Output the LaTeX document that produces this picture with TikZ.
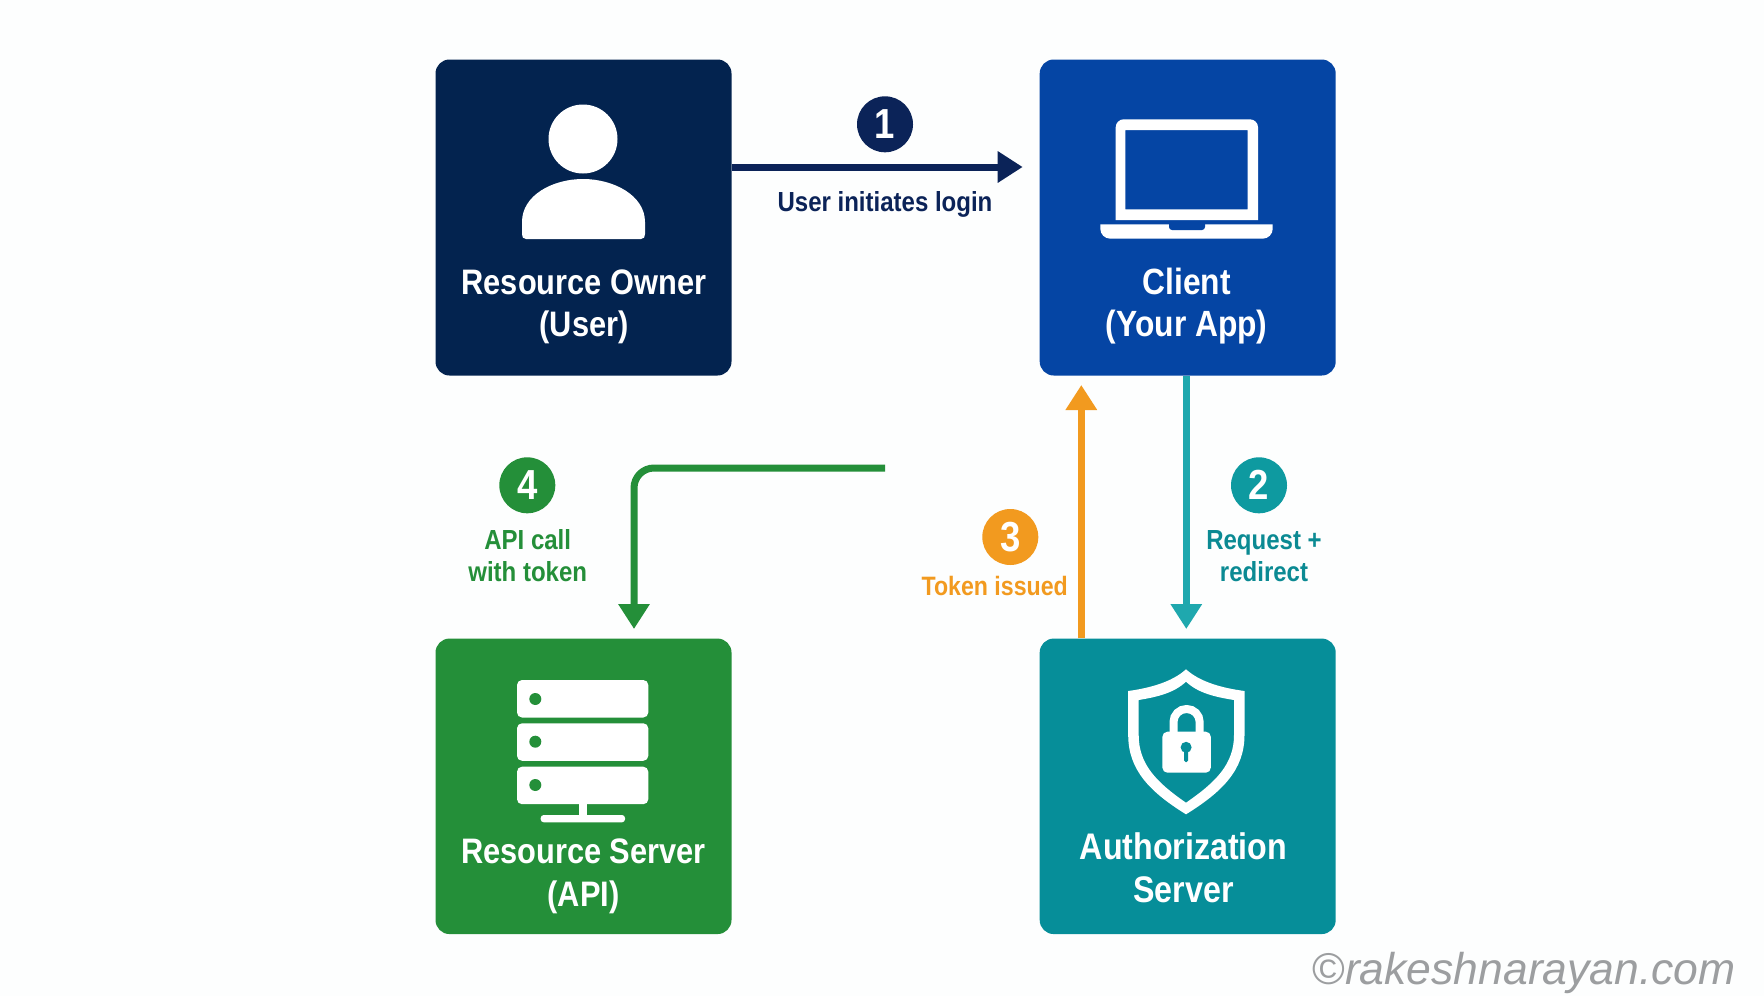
\documentclass[tikz,border=0pt]{standalone}
\usepackage{fontspec}
\setmainfont{Liberation Sans}[FakeStretch=0.87]
\newfontfamily\markfont{Liberation Sans}
\usetikzlibrary{arrows.meta}

\definecolor{pagewhite}{HTML}{FDFEFE}
\definecolor{ownerblue}{HTML}{03234F}
\definecolor{clientblue}{HTML}{0545A4}
\definecolor{authteal}{HTML}{068E99}
\definecolor{servergreen}{HTML}{248F39}
\definecolor{arrownavy}{HTML}{0B2358}
\definecolor{arrowteal}{HTML}{1FA8AE}
\definecolor{labelteal}{HTML}{0B8A93}
\definecolor{badgeteal}{HTML}{0E9AA0}
\definecolor{tokenorange}{HTML}{F29A1F}
\definecolor{markgrey}{HTML}{9C9EA0}

\tikzset{
    boxnode/.style={rectangle, rounded corners=14pt, minimum width=296pt, inner sep=0pt},
    boxlabel/.style={anchor=base, align=center, text=white, inner sep=0pt,
        font=\fontsize{35.4}{42.7}\selectfont\bfseries},
    badge/.style={circle, minimum size=56pt, inner sep=0pt, text=white,
        font=\fontsize{42}{42}\selectfont\bfseries},
    steplabel/.style={anchor=base, align=center, inner sep=0pt,
        font=\fontsize{27.6}{31.7}\selectfont\bfseries},
    flow/.style={line width=7pt, -{Triangle[length=25pt,width=30pt]}}
}

\begin{document}
\begin{tikzpicture}[x=1pt,y=-1pt]
    \useasboundingbox (0,0) rectangle (1764,996);
    \fill[pagewhite] (0,0) rectangle (1764,996);

    % boxes
    \node[boxnode, fill=ownerblue, minimum height=316pt] (owner) at (583.5,217.5) {};
    \node[boxnode, fill=clientblue, minimum height=316pt] (client) at (1187.7,217.5) {};
    \node[boxnode, fill=servergreen, minimum height=295.5pt] (server) at (583.5,786.3) {};
    \node[boxnode, fill=authteal, minimum height=295.5pt] (auth) at (1187.7,786.3) {};

    % person
    \fill[white] (583,139) circle[radius=34.5pt];
    \fill[white] (526,239) .. controls (523,239) and (522,237) .. (522,234) -- (522,222)
        .. controls (522,195) and (553,179) .. (583,179)
        .. controls (613,179) and (645,195) .. (645,222) -- (645,234)
        .. controls (645,237) and (644,239) .. (641,239) -- cycle;

    % laptop
    \fill[white, even odd rule] (1115.7,220) [rounded corners=8pt] -- (1115.7,119.3) -- (1258,119.3)
        [sharp corners] -- (1258,220) -- cycle
        (1125.3,130) rectangle (1247.7,209.3);
    \fill[white] (1100.3,224.3) [rounded corners=10pt] -- (1100.3,238.7) -- (1272.7,238.7)
        [sharp corners] -- (1272.7,224.3) -- cycle;
    \fill[clientblue] (1169,224) [rounded corners=3pt] -- (1169,230) -- (1205,230)
        [sharp corners] -- (1205,224) -- cycle;

    % rack
    \foreach \top/\dot in {680/699, 723.3/741.7, 766.7/785} {
        \fill[white, rounded corners=5pt] (517,\top) rectangle (648.3,\top+37.5);
        \fill[servergreen] (535.3,\dot) circle[radius=6pt];
    }
    \fill[white] (579.3,804) rectangle (586.7,816);
    \fill[white, rounded corners=3pt] (540.7,815) rectangle (625,822.3);

    % shield
    \fill[white, even odd rule] (1186,669.3) .. controls (1172,682) and (1150,688) .. (1128.2,691)
        -- (1128.2,735) .. controls (1128.2,770) and (1150,792) .. (1186,814.3)
        .. controls (1222,792) and (1244.5,770) .. (1244.5,735)
        -- (1244.5,691) .. controls (1222,688) and (1200,682) .. (1186,669.3) -- cycle
        (1186,681.7) .. controls (1174,693) and (1157,697) .. (1138.7,700)
        -- (1138.7,735) .. controls (1138.7,764) and (1156,782) .. (1186,802.7)
        .. controls (1216,782) and (1234,764) .. (1234,735)
        -- (1234,700) .. controls (1215,697) and (1198,693) .. (1186,681.7) -- cycle;
    \fill[white, rounded corners=5pt] (1162.4,731.7) rectangle (1210.8,772.7);
    \draw[white, line width=8pt, rounded corners=13pt] (1173.5,733) -- (1173.5,709) -- (1199.7,709) -- (1199.7,733);
    \fill[authteal] (1186.1,747.3) circle[radius=5.5pt];
    \fill[authteal, rounded corners=1.5pt] (1184,748) rectangle (1188.2,762);

    % box labels
    \node[boxlabel] (ownertext) at (584,336.7) {Resource Owner\\(User)};
    \node[boxlabel, font=\fontsize{36.5}{42.7}\selectfont\bfseries] (clienttext) at (1186.7,336.7) {Client\\(Your App)};
    \node[boxlabel] (servertext) at (583.5,906) {Resource Server\\(API)};
    \node[boxlabel, font=\fontsize{37}{42.7}\selectfont\bfseries] (authtext) at (1183.5,902.2) {Authorization\\Server};

    % free ends of the arrows
    \coordinate (into1) at (1022.7,167);
    \coordinate (into2) at (1186.3,629);
    \coordinate (from3) at (1081.3,638.7);
    \coordinate (into3) at (1081.3,385);
    \coordinate (from4) at (885,468);
    \coordinate (into4) at (634,629);

    \draw[flow, arrownavy] (owner.east |- into1) -- (into1);
    \draw[flow, arrowteal] (client.south -| into2) -- (into2);
    \draw[flow, tokenorange] (auth.north -| from3) -- (into3);
    \draw[flow, servergreen, rounded corners=20pt] (from4) -| (into4);

    % step badges
    \node[badge, fill=arrownavy] (badge1) at (885,124.3) {1};
    \node[badge, fill=badgeteal] (badge2) at (1259,485.3) {2};
    \node[badge, fill=tokenorange] (badge3) at (1010.3,537) {3};
    \node[badge, fill=servergreen] (badge4) at (527.3,485.3) {4};

    % step labels
    \node[steplabel, text=arrownavy] (text1) at (885,211.7) {User initiates login};
    \node[steplabel, text=labelteal] (text2) at (1264,581) {Request +\\redirect};
    \node[steplabel, text=tokenorange, font=\fontsize{26.6}{31.7}\selectfont\bfseries] (text3) at (994.7,595.7) {Token issued};
    \node[steplabel, text=servergreen] (text4) at (527.7,581) {API call\\with token};

    \node[anchor=base east, inner sep=0pt, text=markgrey, font=\fontsize{44.5}{44.5}\markfont\itshape] (mark) at (1736,984) {{\upshape ©}rakeshnarayan.com};
\end{tikzpicture}
\end{document}
